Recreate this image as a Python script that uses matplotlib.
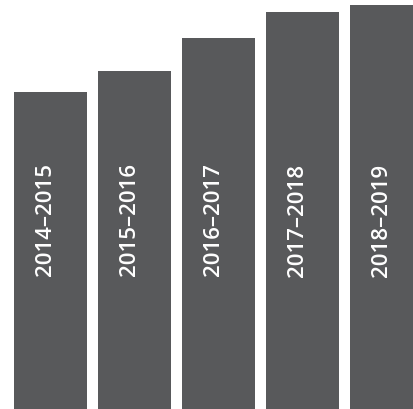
import numpy as np
import matplotlib.pyplot as plt

# seasons and bar heights
seasons = ['2014–2015', '2015–2016', '2016–2017', '2017–2018', '2018–2019']
values = [317, 338, 371, 397, 404]

bar_color = '#58595b'

fig = plt.figure(figsize=(4.13, 4.10), dpi=100)
ax = fig.add_axes([0, 0, 1, 1])

x = np.arange(len(seasons))
ax.bar(x, values, width=0.87, color=bar_color)

# labels sit rotated inside each bar
for xi, label in zip(x, seasons):
    ax.text(xi - 0.065, 190, label, rotation=90, ha='center', va='center',
            color='white', fontsize=16, family='Open Sans', fontweight='semibold')

ax.set_xlim(-0.601, 4.315)
ax.set_ylim(0, 410)
ax.axis('off')

fig.savefig('out.png', dpi=100)
